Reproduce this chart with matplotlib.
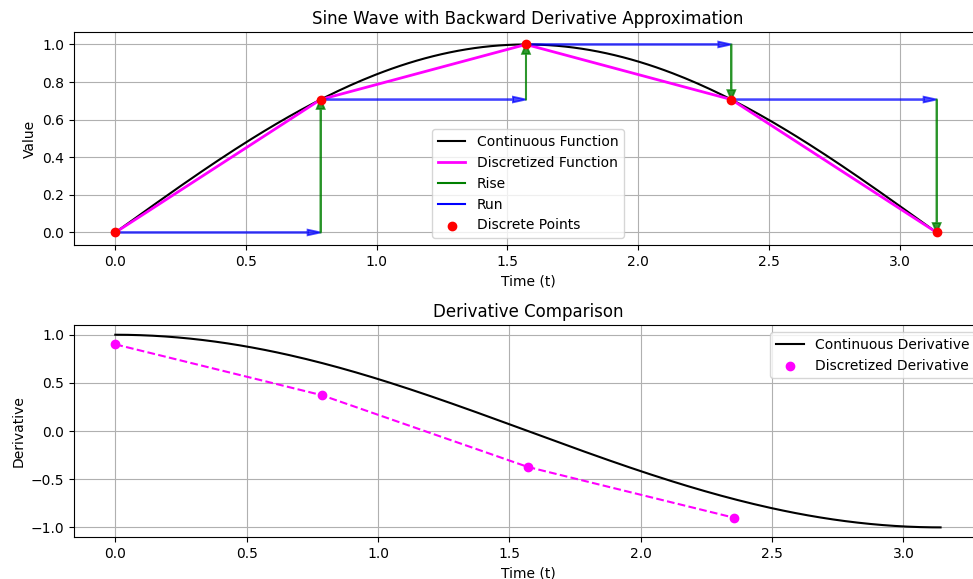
import numpy as np
import matplotlib
matplotlib.use("Agg")
import matplotlib.pyplot as plt

# discrete sample points of sin(t) on [0, pi]
t_disc = [0.0, 0.7854, 1.5708, 2.3562, 3.1416]
y_disc = [0.0, 0.7071, 1.0, 0.7071, 0.0]

# backward-difference derivative estimates
t_deriv = [0.0, 0.7854, 1.5708, 2.3562]
d_deriv = [0.9003, 0.3729, -0.3729, -0.9003]

# continuous curve
t = np.linspace(0, np.pi, 200)
y = np.sin(t)
dy = np.cos(t)

fig = plt.figure(figsize=(9.73, 5.79), dpi=100)
# axes run a bit past the right edge, like the cropped original
ax1 = fig.add_axes([0.0761, 0.5769, 0.933, 0.3679])
ax2 = fig.add_axes([0.0761, 0.0725, 0.933, 0.366])

ax1.plot(t, y, color='black', label='Continuous Function')
ax1.plot(t_disc, y_disc, color='magenta', linewidth=2, label='Discretized Function')
for i in range(len(t_disc) - 1):
    dx = t_disc[i + 1] - t_disc[i]
    ax1.arrow(t_disc[i], y_disc[i], dx, 0, color='blue', alpha=0.7, linewidth=1.3,
              head_width=0.03, head_length=0.05, length_includes_head=True, zorder=2)
    ax1.arrow(t_disc[i + 1], y_disc[i], 0, y_disc[i + 1] - y_disc[i], color='green', alpha=0.8,
              linewidth=1.3, head_width=0.03, head_length=0.05, length_includes_head=True, zorder=2)
ax1.plot([], [], color='green', label='Rise')
ax1.plot([], [], color='blue', label='Run')
ax1.scatter(t_disc, y_disc, color='red', zorder=5, label='Discrete Points')
ax1.set_title('Sine Wave with Backward Derivative Approximation')
ax1.set_xlabel('Time (t)')
ax1.set_ylabel('Value')
ax1.grid(True)
ax1.legend(loc='lower center')

ax2.plot(t, dy, color='black', label='Continuous Derivative')
ax2.plot(t_deriv, d_deriv, color='magenta', linestyle='--')
ax2.scatter(t_deriv, d_deriv, color='magenta', zorder=5, label='Discretized Derivative')
ax2.set_title('Derivative Comparison')
ax2.set_xlabel('Time (t)')
ax2.set_ylabel('Derivative')
ax2.grid(True)
ax2.legend(loc='upper right')

plt.savefig('out.png')
